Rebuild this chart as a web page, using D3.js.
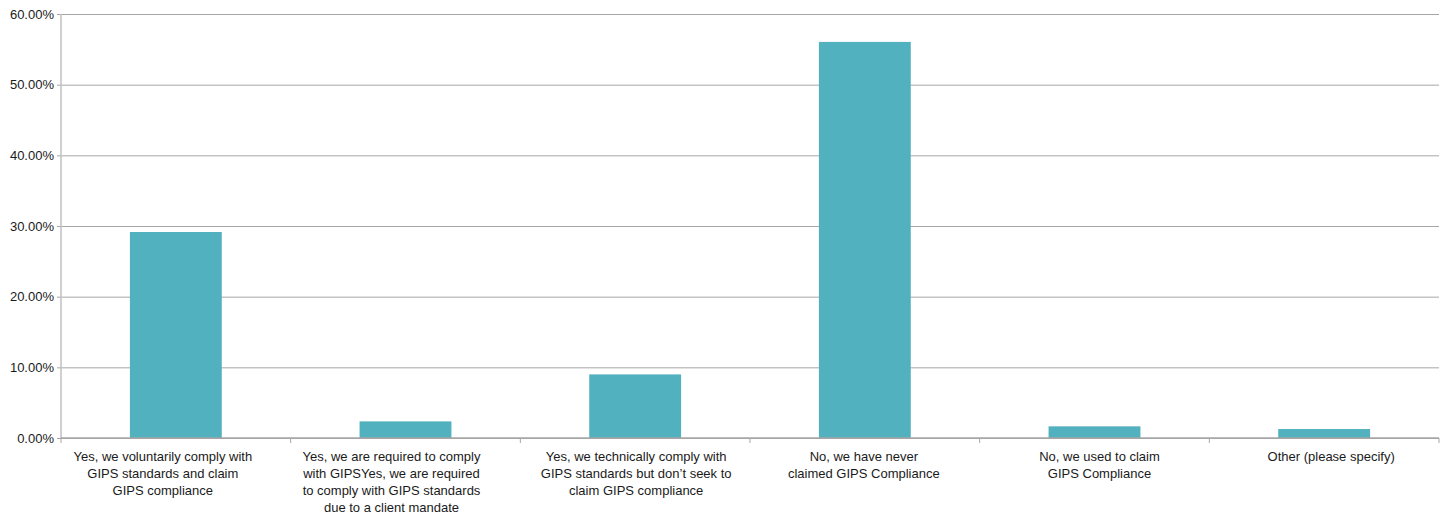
<!DOCTYPE html>
<html>
<head>
<meta charset="utf-8">
<script src="https://cdn.jsdelivr.net/npm/d3@7"></script>
<style>
  html, body { margin: 0; padding: 0; background: #fff; }
  svg { display: block; }
  text { font-family: "Liberation Sans", Arial, sans-serif; fill: #1a1a1a; }
</style>
</head>
<body>
<svg id="chart" width="1448" height="514"></svg>
<script>
// Answer options, each split into the lines used for its axis label
const categories = [
  ["Yes, we voluntarily comply with", "GIPS standards and claim", "GIPS compliance"],
  ["Yes, we are required to comply", "with GIPSYes, we are required", "to comply with GIPS standards", "due to a client mandate"],
  ["Yes, we technically comply with", "GIPS standards but don\u2019t seek to", "claim GIPS compliance"],
  ["No, we have never", "claimed GIPS Compliance"],
  ["No, we used to claim", "GIPS Compliance"],
  ["Other (please specify)"]
];
// Share of respondents (%)
const values = [29.15, 2.35, 9.0, 56.05, 1.65, 1.27];
// Y axis ticks (%)
const yTicks = [0, 10, 20, 30, 40, 50, 60];

const svg = d3.select("#chart");
const margin = { left: 61, right: 9, top: 14, bottom: 76 };
const width = 1448, height = 514;

const x = d3.scaleBand()
  .domain(d3.range(categories.length))
  .range([margin.left, width - margin.right])
  .paddingInner(0.6)
  .paddingOuter(0.3);

const band = d3.scaleBand()
  .domain(d3.range(categories.length))
  .range([margin.left, width - margin.right]);

const y = d3.scaleLinear()
  .domain([0, 60])
  .range([height - margin.bottom, margin.top]);

// Horizontal gridlines with small ticks to the left
const yAxis = d3.axisLeft(y)
  .tickValues(yTicks)
  .tickFormat(d => d.toFixed(2) + "%")
  .tickSizeInner(-(width - margin.right - margin.left))
  .tickSizeOuter(0)
  .tickPadding(7);

const gy = svg.append("g")
  .attr("transform", `translate(${margin.left},0)`)
  .call(yAxis);
gy.select(".domain").remove();
gy.selectAll(".tick line").attr("stroke", "#a6a6a6").attr("x1", -4);
gy.selectAll(".tick text")
  .attr("font-size", 13)
  .attr("fill", "#1a1a1a")
  .attr("font-family", "Liberation Sans, Arial, sans-serif");

// Vertical axis line
svg.append("line")
  .attr("x1", margin.left).attr("x2", margin.left)
  .attr("y1", margin.top).attr("y2", y(0))
  .attr("stroke", "#c0c0c0").attr("stroke-width", 1.5);

// Bars
svg.append("g").selectAll("rect")
  .data(values)
  .join("rect")
  .attr("x", (d, i) => x(i))
  .attr("width", x.bandwidth())
  .attr("y", d => y(d))
  .attr("height", d => y(0) - y(d))
  .attr("fill", "#52b1be");

// Baseline and category separators
svg.append("line")
  .attr("x1", margin.left).attr("x2", width - margin.right)
  .attr("y1", y(0)).attr("y2", y(0))
  .attr("stroke", "#a6a6a6").attr("stroke-width", 1.5);

const bounds = d3.range(categories.length + 1).map(i =>
  i < categories.length ? band(i) : band(categories.length - 1) + band.bandwidth());
svg.append("g").selectAll("line")
  .data(bounds)
  .join("line")
  .attr("x1", d => d).attr("x2", d => d)
  .attr("y1", y(0)).attr("y2", y(0) + 5)
  .attr("stroke", "#a6a6a6");

// Category labels, each nudged within its slot
const labelShift = [-13, -14, 1, -1, 5, 7];
const labels = svg.append("g").selectAll("text")
  .data(categories)
  .join("text")
  .attr("text-anchor", "middle")
  .attr("font-size", 13)
  .attr("x", (d, i) => band(i) + band.bandwidth() / 2 + labelShift[i])
  .attr("y", y(0) + 23);
labels.selectAll("tspan")
  .data(d => d)
  .join("tspan")
  .attr("x", function () { return this.parentNode.getAttribute("x"); })
  .attr("dy", (d, i) => i === 0 ? 0 : 17)
  .text(d => d);
</script>
</body>
</html>
